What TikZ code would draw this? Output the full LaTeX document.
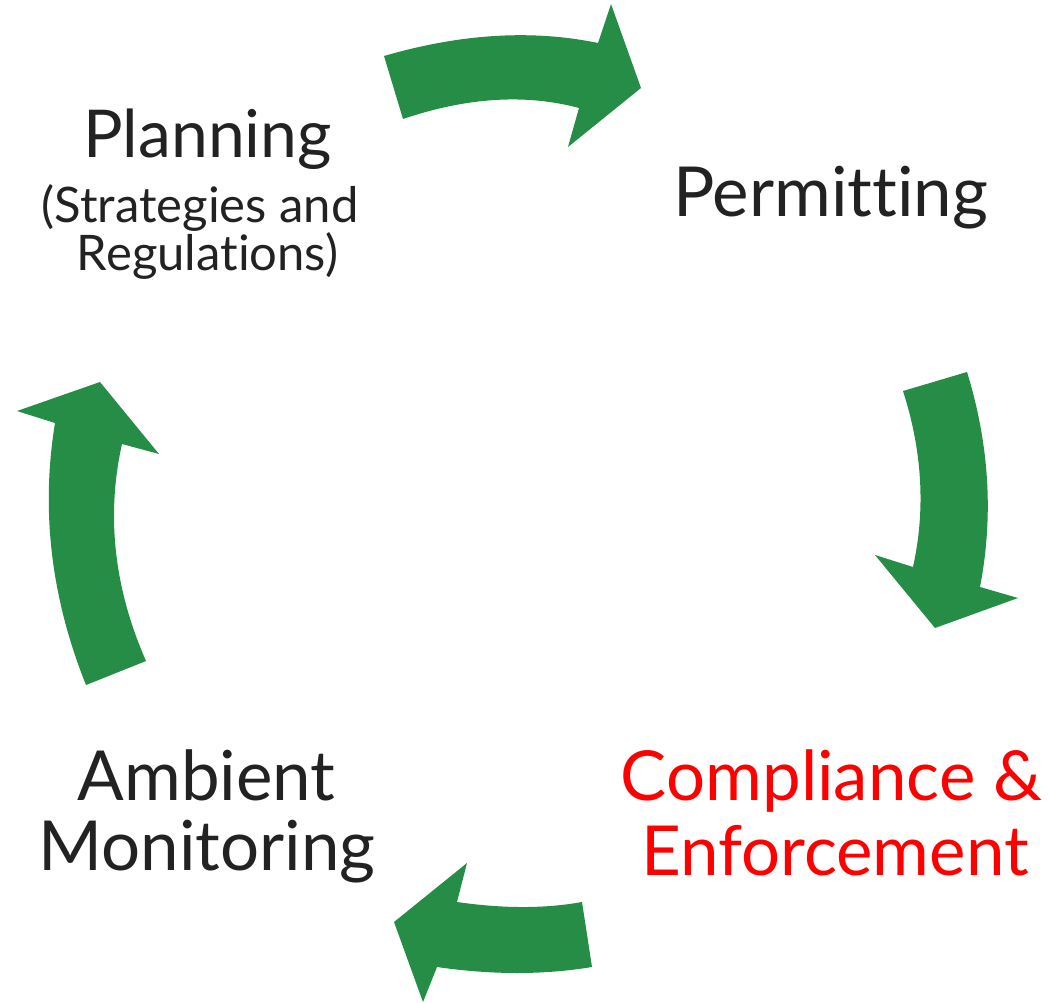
\documentclass[tikz,border=0pt]{standalone}
\usepackage{fontspec}
\setmainfont{Lato}[Ligatures={NoCommon}]
\definecolor{cycgreen}{RGB}{37,141,70}
\definecolor{txtgray}{RGB}{34,34,34}
\definecolor{txtred}{RGB}{255,0,0}
\begin{document}
\begin{tikzpicture}[x=1pt,y=-1pt,
  arrowshape/.style={fill=cycgreen,draw=none},
  lbl/.style={anchor=base,inner sep=0pt,text=txtgray},
  redtxt/.style={anchor=base,inner sep=0pt,text=txtred,font=\fontsize{69}{69}\selectfont}]
\useasboundingbox (0,0) rectangle (1050,1003);
% arrows
\fill[arrowshape] (384,56) .. controls (460.7,33.7) and (532,29.3) .. (598,43) -- (611,4) -- (641,88) -- (568,147) -- (579,108) .. controls (525.7,93.7) and (467,97.3) .. (403,119) -- cycle;
\fill[arrowshape] (903,391) -- (967,372) .. controls (989.3,444.3) and (993.7,516) .. (980,587) -- (1018,598) -- (935,628) -- (875,555) -- (913,567) .. controls (925.7,509.7) and (922.3,451) .. (903,391) -- cycle;
\fill[arrowshape] (582,902) -- (592,967) .. controls (543.7,975) and (492,975) .. (437,967) -- (423,1002) -- (394,922) -- (467,863) -- (457,902) .. controls (503.3,908.7) and (545,908.7) .. (582,902) -- cycle;
\fill[arrowshape] (86,685) -- (146,661) .. controls (114,588) and (106,515.7) .. (122,444) -- (159,454) -- (100,382) -- (17,411) -- (55,423) .. controls (40.7,510.3) and (51,597.7) .. (86,685) -- cycle;
% texts
\node[lbl,font=\fontsize{66}{66}\selectfont] (plan) at (207.5,158) {Planning};
\node[lbl,font=\fontsize{49}{49}\selectfont] (plan2) at (200,223) {(Strategies and};
\node[lbl,font=\fontsize{49}{49}\selectfont] (plan3) at (207.5,270) {Regulations)};
\node[lbl,font=\fontsize{69}{69}\selectfont] (perm) at (830.5,217) {Permitting};
\node[redtxt] (comp1) at (831.5,800) {Compliance \&};
\node[redtxt] (comp2) at (835,875) {Enforcement};
\node[lbl,font=\fontsize{69}{69}\selectfont] (amb1) at (206.5,800) {Ambient};
\node[lbl,font=\fontsize{69}{69}\selectfont] (amb2) at (207,870) {Monitoring};
\end{tikzpicture}
\end{document}
